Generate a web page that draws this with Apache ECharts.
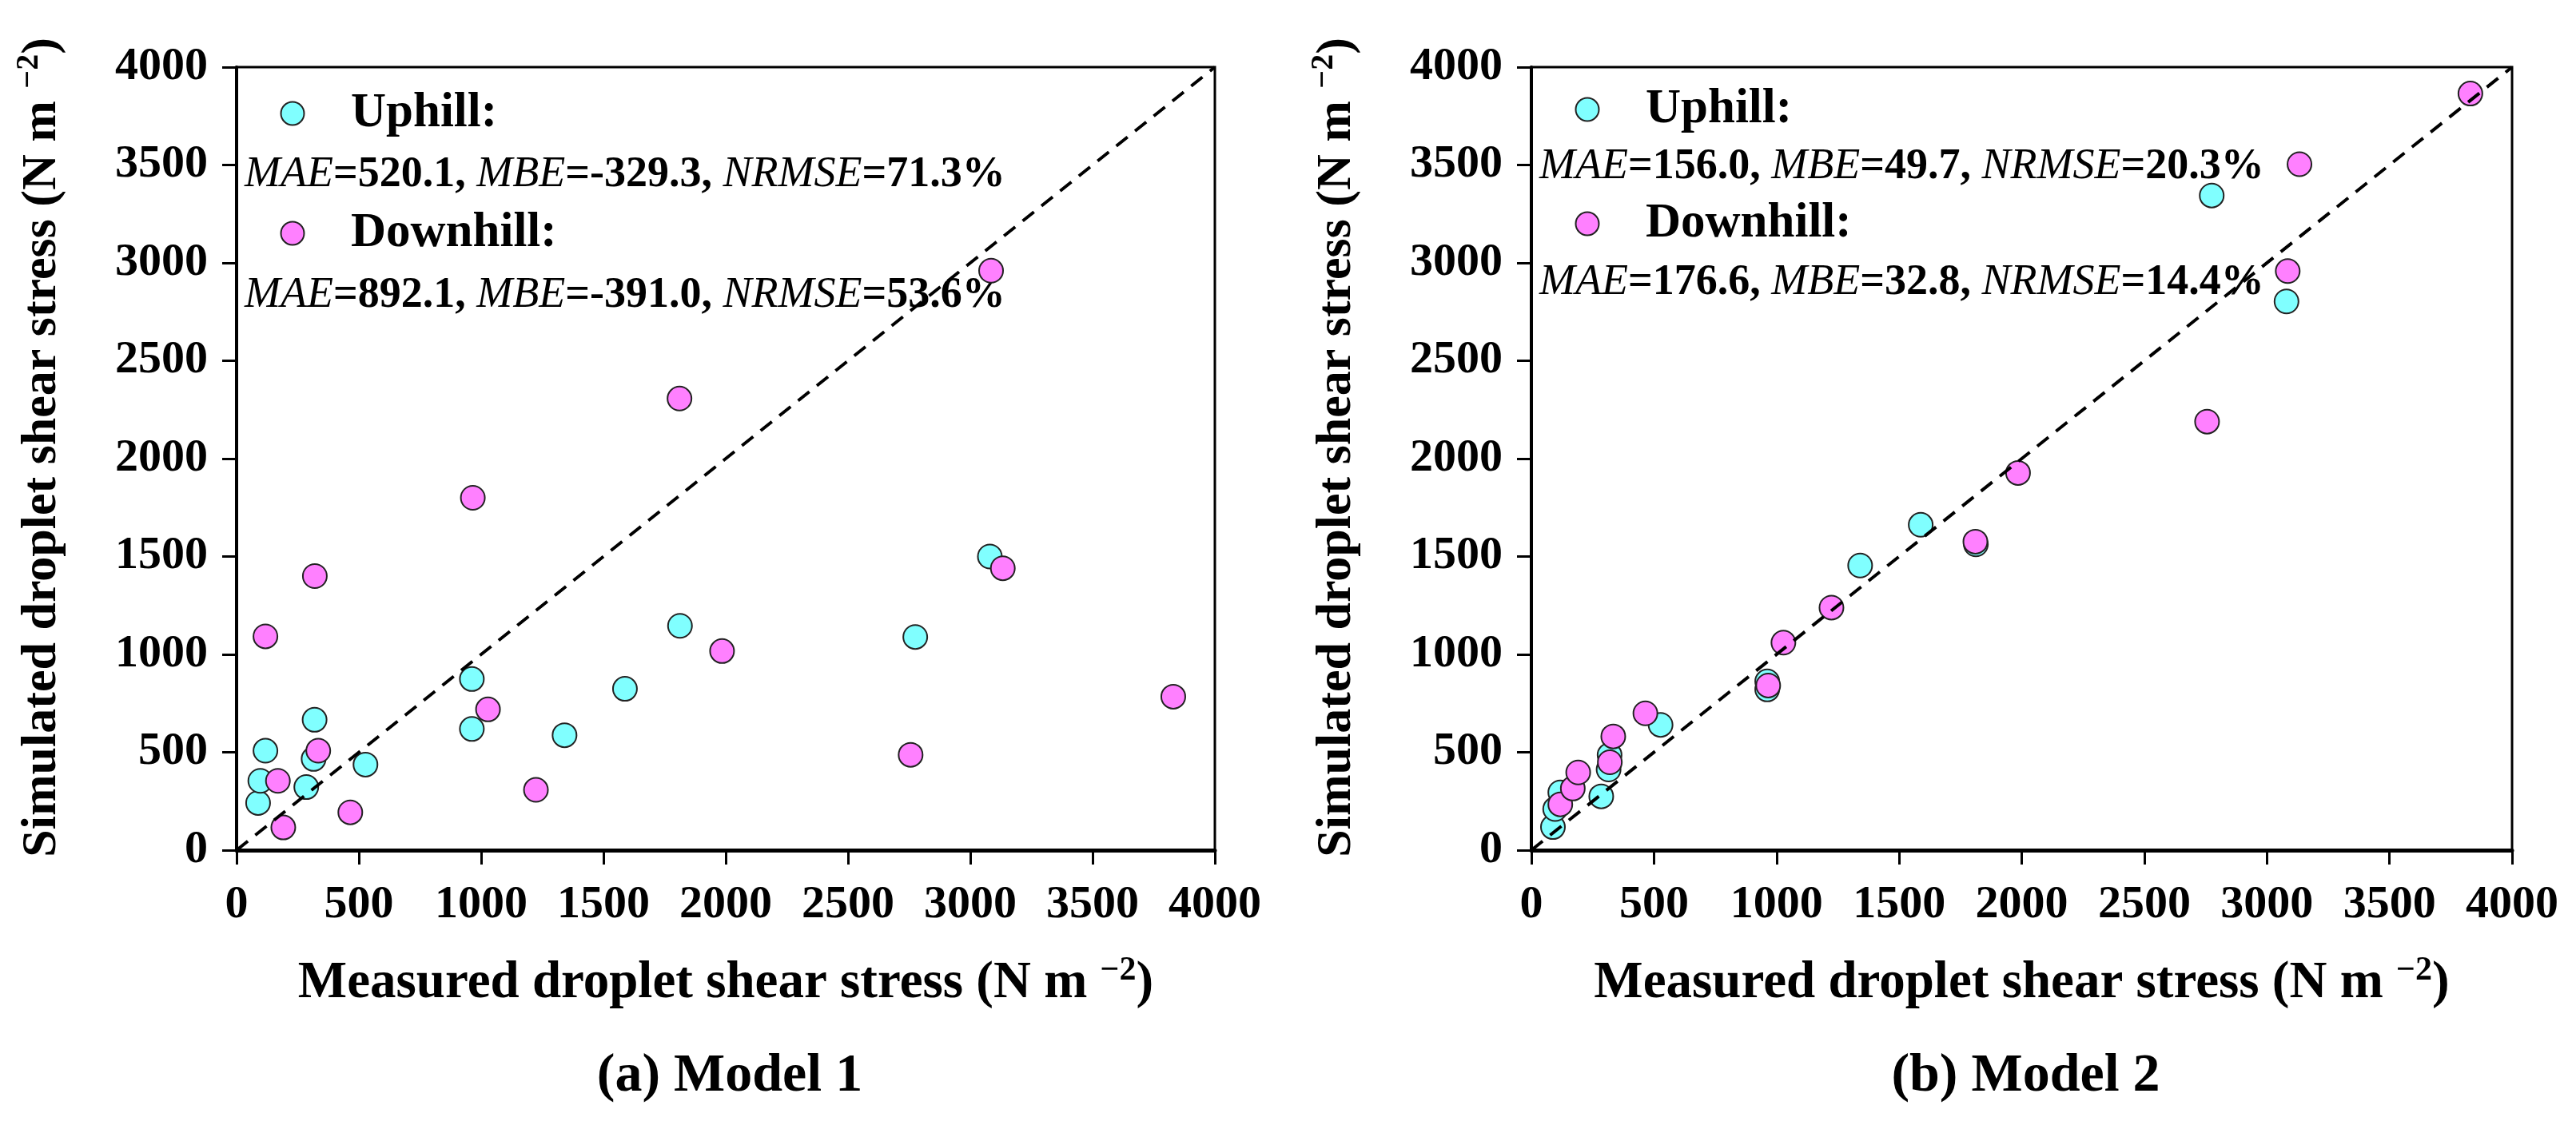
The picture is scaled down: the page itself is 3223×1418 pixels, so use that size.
<!DOCTYPE html>
<html>
<head>
<meta charset="utf-8">
<script src="https://cdn.jsdelivr.net/npm/echarts@6/dist/echarts.min.js"></script>
<style>
  html, body { margin: 0; padding: 0; background: #fff; }
  #main { width: 3223px; height: 1418px; }
</style>
</head>
<body>
<div id="main"></div>
<script>
// measured values (x), shared by both models
var measuredUp   = [88, 97, 118, 285, 315, 319, 527, 962, 962, 1341, 1588, 1813, 2775, 3080];
var measuredDown = [118, 169, 191, 320, 334, 465, 966, 1028, 1224, 1811, 1985, 2756, 3085, 3133, 3830];

// simulated values (y)
var model1Up   = [241, 354, 508, 322, 466, 666, 437, 874, 619, 587, 824, 1146, 1089, 1500];
var model1Down = [1092, 354, 116, 1400, 508, 193, 1800, 719, 308, 2307, 1017, 487, 2960, 1440, 784];
var model2Up   = [118, 210, 295, 275, 412, 486, 640, 862, 821, 1454, 1662, 1562, 3344, 2803];
var model2Down = [234, 315, 397, 449, 581, 699, 841, 1060, 1239, 1576, 1927, 2189, 2958, 3504, 3865];

// 1:1 line end points
var oneToOne = [[0, 0], [4000, 4000]];

var panelTitles = ['(a) Model 1', '(b) Model 2'];
// [MAE, MBE, NRMSE] for uphill / downhill
var statsUp   = [['520.1', '-329.3', '71.3%'], ['156.0', '49.7', '20.3%']];
var statsDown = [['892.1', '-391.0', '53.6%'], ['176.6', '32.8', '14.4%']];

var FONT = "'Liberation Serif', 'Times New Roman', serif";
var CYAN = '#80ffff', PINK = '#ff80ff';

var grids = [
    {left: 296, top: 84, width: 1224, height: 980},
    {left: 1916, top: 84, width: 1227, height: 980}
];
// y of: uphill row, uphill stats, downhill row, downhill stats
var legendY = [[142, 219, 292, 370], [137, 209, 280, 354]];

function pairs(xs, ys) {
    return xs.map(function (x, i) { return [x, ys[i]]; });
}

function axisName(txt) {
    return '{t|' + txt + ' (N m }{s|\u22122}{t|)}';
}

function nameRich(size) {
    return {
        t: {fontSize: size, fontWeight: 'bold', fontFamily: FONT, color: '#000', lineHeight: size + 9},
        s: {fontSize: Math.round(size * 0.65), fontWeight: 'bold', fontFamily: FONT, color: '#000',
            lineHeight: Math.round(size * 0.5), verticalAlign: 'top'}
    };
}

var tickLabel = {color: '#000', fontSize: 58, fontWeight: 'bold', fontFamily: FONT,
                 formatter: function (v) { return String(v); }};

function makeX(i) {
    return {
        type: 'value', gridIndex: i, min: 0, max: 4000, interval: 500,
        name: axisName('Measured droplet shear stress'),
        nameLocation: 'middle', nameGap: 130,
        nameTextStyle: {rich: nameRich(65)},
        axisLine: {show: true, lineStyle: {color: '#000', width: 5}},
        axisTick: {show: true, inside: false, length: 18, lineStyle: {color: '#000', width: 3}},
        axisLabel: Object.assign({margin: 40}, tickLabel),
        splitLine: {show: false}
    };
}

function makeY(i) {
    return {
        type: 'value', gridIndex: i, min: 0, max: 4000, interval: 500,
        name: axisName('Simulated droplet shear stress'),
        nameLocation: 'middle', nameGap: 208,
        nameTextStyle: {rich: nameRich(62), padding: [0, 0, 0, 28]},
        axisLine: {show: true, lineStyle: {color: '#000', width: 4}},
        axisTick: {show: true, inside: false, length: 18, lineStyle: {color: '#000', width: 3}},
        axisLabel: Object.assign({margin: 36}, tickLabel),
        splitLine: {show: false}
    };
}

function scatter(name, i, data, color) {
    return {
        name: name, type: 'scatter', xAxisIndex: i, yAxisIndex: i,
        data: data, symbol: 'circle', symbolSize: 30,
        itemStyle: {color: color, borderColor: '#222', borderWidth: 2, opacity: 1}
    };
}

function statsText(s) {
    return '{i|MAE}{n|=' + s[0] + ', }{i|MBE}{n|=' + s[1] + ', }{i|NRMSE}{n|=' + s[2] + '}';
}

var statsRich = {
    i: {fontSize: 54, fontStyle: 'italic', fontFamily: FONT, fill: '#000'},
    n: {fontSize: 54, fontWeight: 'bold', fontFamily: FONT, fill: '#000'}
};

var graphics = [];
grids.forEach(function (g, i) {
    var ly = legendY[i];
    [[CYAN, 'Uphill:', ly[0], statsUp[i], ly[1]], [PINK, 'Downhill:', ly[2], statsDown[i], ly[3]]].forEach(function (row) {
        graphics.push({
            type: 'circle', shape: {cx: g.left + 70, cy: row[2], r: 14.5},
            style: {fill: row[0], stroke: '#222', lineWidth: 2}
        });
        graphics.push({
            type: 'text', x: g.left + 143, y: row[2],
            style: {text: row[1], fontSize: 61, fontWeight: 'bold', fontFamily: FONT, fill: '#000', verticalAlign: 'middle'}
        });
        graphics.push({
            type: 'text', x: g.left + 10, y: row[4],
            style: {text: statsText(row[3]), rich: statsRich, verticalAlign: 'middle'}
        });
    });
});

var series = [];
[[model1Up, model1Down], [model2Up, model2Down]].forEach(function (m, i) {
    series.push(scatter('Uphill', i, pairs(measuredUp, m[0]), CYAN));
    series.push(scatter('Downhill', i, pairs(measuredDown, m[1]), PINK));
    series.push({
        type: 'line', xAxisIndex: i, yAxisIndex: i, data: oneToOne,
        symbol: 'none', z: 5,
        lineStyle: {color: '#000', width: 4, type: [18, 12]}
    });
});

var chart = echarts.init(document.getElementById('main'), null, {renderer: 'canvas'});
chart.setOption({
    animation: false,
    backgroundColor: '#fff',
    title: panelTitles.map(function (t, i) {
        return {
            text: t, left: grids[i].left + grids[i].width / 2, top: 1308, textAlign: 'center',
            textStyle: {fontSize: 68, fontWeight: 'bold', fontFamily: FONT, color: '#000'}
        };
    }),
    grid: grids.map(function (g) {
        return {left: g.left, top: g.top, width: g.width, height: g.height,
                show: true, borderColor: '#000', borderWidth: 3, backgroundColor: 'transparent'};
    }),
    xAxis: [makeX(0), makeX(1)],
    yAxis: [makeY(0), makeY(1)],
    series: series,
    graphic: graphics
});
</script>
</body>
</html>
